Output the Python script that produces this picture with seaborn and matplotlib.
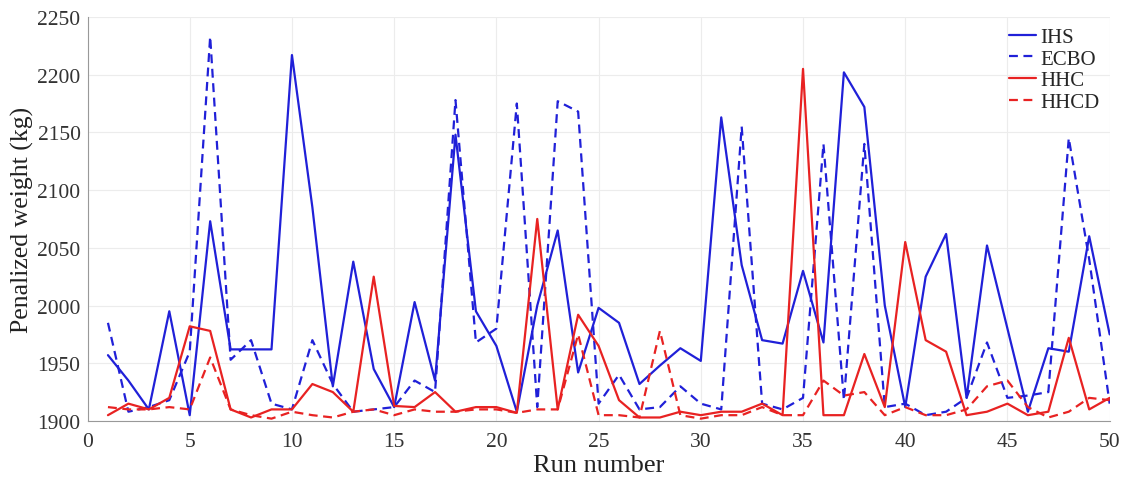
import numpy as np
import pandas as pd
import seaborn as sns
import matplotlib.pyplot as plt

runs = list(range(1, 51))

ihs = [1957, 1935, 1910, 1995, 1905, 2073, 1962, 1962, 1962, 2217,
       2085, 1930, 2038, 1945, 1912, 2003, 1935, 2148, 1995, 1965,
       1908, 2000, 2065, 1942, 1998, 1985, 1932, 1948, 1963, 1952,
       2163, 2035, 1970, 1967, 2030, 1968, 2202, 2172, 2000, 1912,
       2025, 2062, 1920, 2052, 1980, 1908, 1963, 1960, 2060, 1975]

ecbo = [1985, 1908, 1912, 1918, 1960, 2233, 1953, 1970, 1915, 1910,
        1970, 1932, 1908, 1910, 1912, 1935, 1925, 2178, 1968, 1980,
        2175, 1912, 2177, 2168, 1915, 1940, 1910, 1912, 1930, 1915,
        1910, 2155, 1915, 1910, 1920, 2140, 1918, 2140, 1912, 1915,
        1905, 1908, 1920, 1968, 1920, 1922, 1925, 2145, 2040, 1915]

hhc = [1905, 1915, 1910, 1920, 1982, 1978, 1910, 1903, 1910, 1910,
       1932, 1925, 1908, 2025, 1913, 1912, 1925, 1908, 1912, 1912,
       1907, 2075, 1910, 1992, 1965, 1918, 1903, 1903, 1908, 1905,
       1908, 1908, 1915, 1905, 2205, 1905, 1905, 1958, 1912, 2055,
       1970, 1960, 1905, 1908, 1915, 1905, 1908, 1972, 1910, 1920]

hhcd = [1912, 1910, 1910, 1912, 1910, 1955, 1910, 1905, 1902, 1908,
        1905, 1903, 1908, 1910, 1905, 1910, 1908, 1908, 1910, 1910,
        1907, 1910, 1910, 1975, 1905, 1905, 1903, 1978, 1905, 1902,
        1905, 1905, 1912, 1905, 1905, 1935, 1922, 1925, 1905, 1912,
        1905, 1905, 1910, 1930, 1935, 1912, 1903, 1908, 1920, 1918]

series = ['IHS', 'ECBO', 'HHC', 'HHCD']
df = pd.DataFrame({'Run': runs * 4,
                   'Weight': ihs + ecbo + hhc + hhcd,
                   'Method': np.repeat(series, len(runs))})

sns.set_style('whitegrid')
plt.rcParams['font.family'] = ['Liberation Serif', 'DejaVu Serif']

fig = plt.figure(figsize=(11.22, 4.85), dpi=100)
ax = fig.add_axes([0.078, 0.13, 0.911, 0.833])

palette = {'IHS': '#2020d8', 'ECBO': '#2020d8', 'HHC': '#e82222', 'HHCD': '#e82222'}
dashes = {'IHS': '', 'ECBO': (4, 2.5), 'HHC': '', 'HHCD': (4, 2.5)}
sns.lineplot(data=df, x='Run', y='Weight', hue='Method', style='Method',
             palette=palette, dashes=dashes, linewidth=1.6, ax=ax)

ax.set_xlim(0, 50)
ax.set_ylim(1900, 2250)
ax.set_xticks(range(0, 51, 5))
ax.set_yticks(range(1900, 2251, 50))
ax.set_xlabel('Run number', fontsize=19, labelpad=2, color='#222222')
ax.set_ylabel('Penalized weight (kg)', fontsize=18.5, labelpad=2, color='#222222')
ax.tick_params(labelsize=15.5, colors='#333333', length=4, direction='in')
ax.tick_params(axis='x', pad=8)
ax.tick_params(axis='y', pad=5)
ax.grid(color='#ececec', linewidth=0.8)
for side in ['top', 'right']:
    ax.spines[side].set_visible(False)
for side in ['left', 'bottom']:
    ax.spines[side].set_color('#999999')

leg = ax.legend(loc='upper right', frameon=False, fontsize=15,
                handlelength=1.3, handletextpad=0.2, labelspacing=0.1,
                borderaxespad=0.1)
leg.set_title(None)

fig.savefig('out.png', dpi=100)
